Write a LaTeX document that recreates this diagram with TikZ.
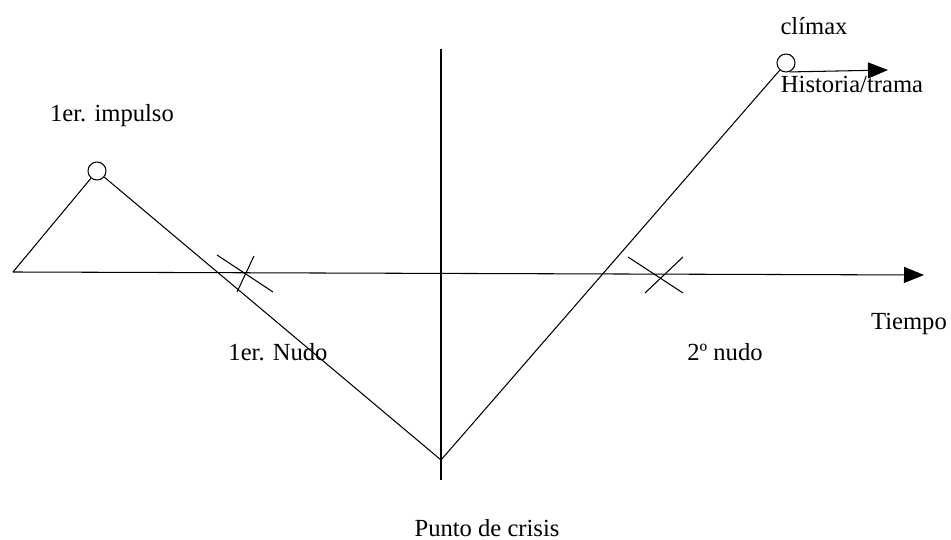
\documentclass[tikz,border=0pt]{standalone}
\usepackage{fontspec}
\setmainfont{Liberation Serif}
\usetikzlibrary{arrows.meta}

\begin{document}
\begin{tikzpicture}[
  x=0.02cm,y=-0.02cm,
  >={Triangle[length=4mm,width=3.2mm]},
  pt/.style={circle,draw,inner sep=0pt,minimum size=3.6mm,line width=0.6pt},
  ln/.style={line width=0.6pt},
  lbl/.style={font=\fontsize{14}{16}\selectfont,inner sep=0pt,anchor=base}
]
\useasboundingbox (0,0) rectangle (951,540);

% puntos de la curva
\coordinate (start) at (13,272);
\coordinate (axisend) at (924,275);
\node[pt] (imp) at (97,171) {};
\node[pt] (clim) at (786,63) {};
\coordinate (crisis) at (441,460);
\coordinate (vtop) at (441,49);
\coordinate (vbot) at (441,480);
\coordinate (hist) at (888,70);
\coordinate (nudoA) at (245,273);
\coordinate (nudoB) at (657,275);

% ejes
\draw[ln,->] (start) -- (axisend);
\draw[ln] (vtop) -- (vbot);
\draw[ln,->] (clim.-70) -- (hist);

% curva
\draw[ln] (start) -- (imp);
\draw[ln] (imp) -- (crisis) -- (clim);

% nudos
\draw[ln] (nudoA) +(-28,-18) -- +(28,19);
\draw[ln] (nudoA) +(9,-17) -- +(-8,19);
\draw[ln] (nudoB) +(-29,-18) -- +(26,18);
\draw[ln] (nudoB) +(26,-18) -- +(-12,18);

% textos
\node[lbl] (timp) at (112,122) {1er. impulso};
\node[lbl] (tnudoA) at (278,361) {1er. Nudo};
\node[lbl] (tnudoB) at (725,361) {2º nudo};
\node[lbl] (ttiempo) at (909,330) {Tiempo};
\node[lbl] (tcrisis) at (487,537) {Punto de crisis};
\node[lbl] (tclim) at (814,35) {clímax};
\node[lbl] (thist) at (852,93) {Historia/trama};
\end{tikzpicture}
\end{document}
